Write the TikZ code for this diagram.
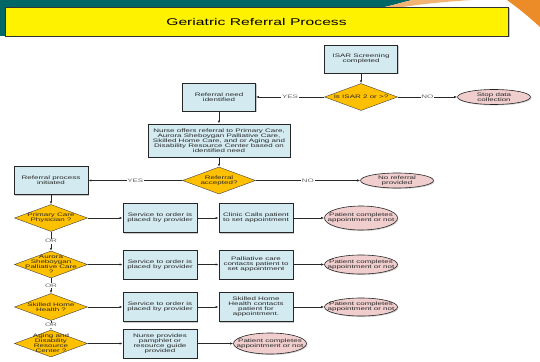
\documentclass[tikz,border=0pt]{standalone}
\usepackage{fontspec}
\setmainfont{Liberation Sans}[FakeStretch=1.6]
\usetikzlibrary{shapes.geometric,arrows.meta,shadows}
\definecolor{boxblue}{RGB}{211,234,240}
\definecolor{decgold}{RGB}{255,192,0}
\definecolor{endpink}{RGB}{240,206,206}
\definecolor{bandteal}{RGB}{0,102,102}
\definecolor{swoosh}{RGB}{236,140,40}
\definecolor{linegray}{RGB}{40,40,40}

\begin{document}
\begin{tikzpicture}[x=1pt,y=-1pt,
    font=\fontsize{5pt}{5pt}\selectfont,
    box/.style={rectangle, draw=black!85, line width=0.7pt, fill=boxblue,
      minimum width=74pt, minimum height=29pt, inner sep=1pt, align=center,
      text=black!85, drop shadow={shadow xshift=1.2pt, shadow yshift=-1.2pt, fill=black!35, opacity=0.6}},
    decision/.style={diamond, draw=black!75, line width=0.4pt, fill=decgold,
      minimum width=73pt, minimum height=27pt, inner sep=0pt},
    stopper/.style={ellipse, draw=black!85, line width=0.6pt, fill=endpink,
      minimum width=73pt, minimum height=15pt, inner sep=0pt,
      drop shadow={shadow xshift=1pt, shadow yshift=-1pt, fill=black!30, opacity=0.6}},
    dtext/.style={align=center, inner sep=0pt, text=black!85},
    flow/.style={draw=linegray, line width=0.55pt, -{Latex[length=3pt,width=2.2pt]}},
    yn/.style={fill=white, inner sep=0.8pt, text=black!60}]

  \useasboundingbox (0,0) rectangle (540,361);

  % header band
  \fill[bandteal] (0,0) -- (412,0) .. controls (400,3) and (390,6) .. (380,8)
    -- (380,36) -- (0,36) -- cycle;
  \fill[swoosh!65] (380,8) .. controls (390,6) and (400,3) .. (412,0)
    -- (472,0) .. controls (440,2) and (410,5) .. (380,11) -- cycle;
  \fill[swoosh] (507,0) .. controls (518,8) and (528,16) .. (540,27) -- (540,0) -- cycle;

  \node[rectangle, draw=black!80, line width=0.6pt, fill=yellow,
    minimum width=503pt, minimum height=29pt, font=\fontsize{9.8pt}{10pt}\selectfont,
    drop shadow={shadow xshift=1.5pt, shadow yshift=-1.5pt, fill=black!40, opacity=0.6}]
    (title) at (256.5,21.5) {Geriatric Referral Process};

  % screening and referral decision
  \draw
  (361,59)    node[box, minimum width=73pt, minimum height=28pt](isar){ISAR Screening\\completed}
  (361,97)    node[decision, label={[dtext]center:{Is ISAR 2 or >?}}](isard){}
  (219,97)    node[box, minimum width=73pt, minimum height=28pt](need){Referral need\\identified}
  (494,97)    node[stopper](stop){}
  (219,140.5) node[box, minimum width=142pt, minimum height=33pt](offer){Nurse offers referral to Primary Care,\\Aurora Sheboygan Palliative Care,\\Skilled Home Care, and or Aging and\\Disability Resource Center based on\\identified need}
  (219,180.5) node[decision, label={[dtext]center:{Referral\\accepted?}}](accept){}
  (51,180.5)  node[box, minimum height=28pt](init){Referral process\\initiated}
  (397,180.5) node[stopper](noref){};
  \node[dtext] at (stop) {Stop data\\collection};
  \node[dtext] at (noref) {No referral\\provided};

  % service rows
  \draw
  (51,218)    node[decision, label={[dtext]center:{Primary Care\\Physician ?}}](pcp){}
  (160,218)   node[box](order1){Service to order is\\placed by provider}
  (256,218)   node[box](clinic){Clinic Calls patient\\to set appointment}
  (361,218)   node[stopper, minimum height=24pt, label={[dtext]center:{Patient completes\\appointment or not}}](done1){}
  (51,264.5)  node[decision, label={[dtext]center:{Aurora\\Sheboygan\\Palliative Care\\?}}](aurora){}
  (160,264.5) node[box](order2){Service to order is\\placed by provider}
  (256,264.5) node[box](pall){Palliative care\\contacts patient to\\set appointment}
  (361,264.5) node[stopper, minimum height=19pt, label={[dtext]center:{Patient completes\\appointment or not}}](done2){}
  (51,307)    node[decision, label={[dtext]center:{Skilled Home\\Health ?}}](skilled){}
  (160,307)   node[box](order3){Service to order is\\placed by provider}
  (256,307)   node[box](home){Skilled Home\\Health contacts\\patient for\\appointment.}
  (361,307)   node[stopper, minimum height=18pt, label={[dtext]center:{Patient completes\\appointment or not}}](done3){}
  (51,343.5)  node[decision, label={[dtext]center:{Aging and\\Disability\\Resource\\Center ?}}](aging){}
  (160,343.5) node[box](pamph){Nurse provides\\pamphlet or\\resource guide\\provided}
  (270,343.5) node[stopper, minimum height=21pt, label={[dtext]center:{Patient completes\\appointment or not}}](done4){};

  \draw[flow] (isar) -- (isard);
  \draw[flow] (isard) -- node[yn]{YES} (need);
  \draw[flow] (isard) -- node[yn]{NO}  (stop);
  \draw[flow] (need) -- (offer);
  \draw[flow] (offer) -- (accept);
  \draw[flow] (accept) -- node[yn]{YES} (init);
  \draw[flow] (accept) -- node[yn]{NO}  (noref);
  \draw[flow] (init) -- (pcp);
  \draw[flow] (pcp) -- node[yn]{OR} (aurora);
  \draw[flow] (aurora) -- node[yn]{OR} (skilled);
  \draw[flow] (skilled) -- node[yn]{OR} (aging);

  \draw[flow] (pcp) -- (order1);
  \draw[flow] (order1) -- (clinic);
  \draw[flow] (clinic) -- (done1);
  \draw[flow] (aurora) -- (order2);
  \draw[flow] (order2) -- (pall);
  \draw[flow] (pall) -- (done2);
  \draw[flow] (skilled) -- (order3);
  \draw[flow] (order3) -- (home);
  \draw[flow] (home) -- (done3);
  \draw[flow] (aging) -- (pamph);
  \draw[flow] (pamph) -- (done4);
\end{tikzpicture}
\end{document}
